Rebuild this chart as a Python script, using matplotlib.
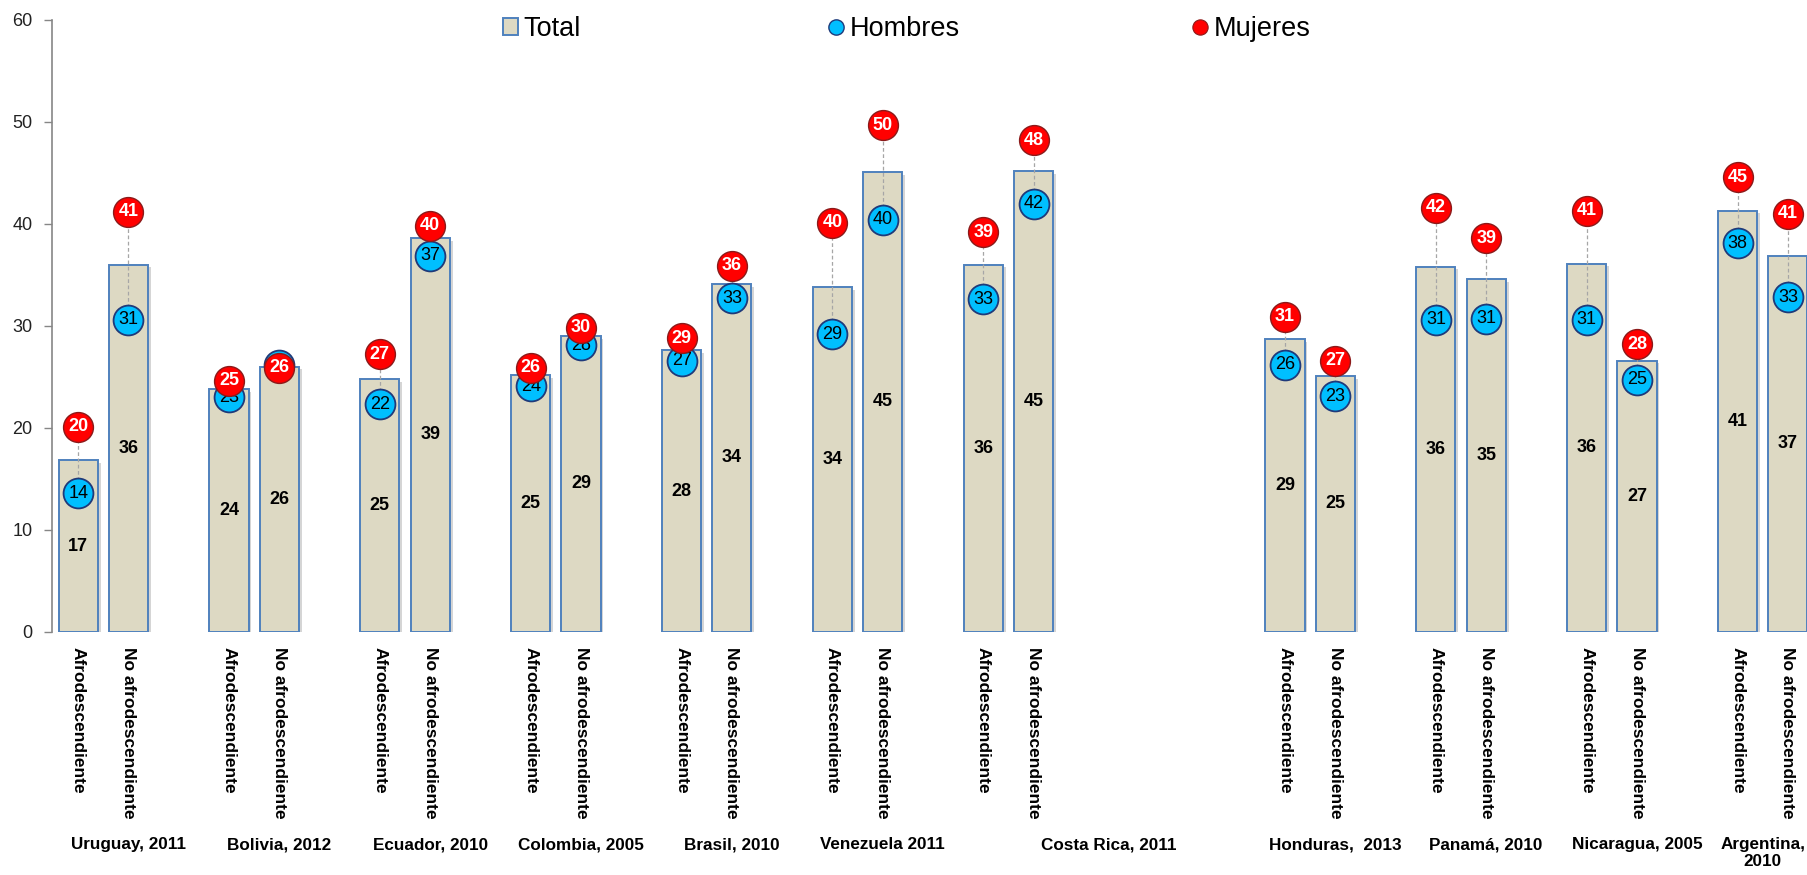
"""Tasa por condición étnico-racial y sexo, países seleccionados."""

import numpy as np
import matplotlib
matplotlib.use("Agg")
import matplotlib.pyplot as plt
from matplotlib import patheffects
from matplotlib.lines import Line2D
from matplotlib.patches import Patch
from matplotlib.transforms import blended_transform_factory

plt.rcParams["font.family"] = ["Liberation Sans", "DejaVu Sans"]

# Datos
paises = ["Uruguay, 2011", "Bolivia, 2012", "Ecuador, 2010", "Colombia, 2005",
          "Brasil, 2010", "Venezuela 2011", "Costa Rica, 2011", "Honduras,  2013",
          "Panamá, 2010", "Nicaragua, 2005", "Argentina,\n2010"]
categorias = ["Afrodescendiente", "No afrodescendiente"]

total_afro = [16.8, 23.8, 24.8, 25.2, 27.6, 33.8, 36.0, 28.7, 35.8, 36.1, 41.3]
total_no = [36.0, 26.0, 38.6, 29.0, 34.1, 45.1, 45.2, 25.1, 34.6, 26.6, 36.9]
hombres_afro = [13.6, 23.0, 22.3, 24.1, 26.6, 29.2, 32.6, 26.2, 30.6, 30.6, 38.1]
hombres_no = [30.6, 26.2, 36.9, 28.1, 32.7, 40.4, 42.0, 23.1, 30.7, 24.7, 32.8]
mujeres_afro = [20.1, 24.6, 27.2, 25.9, 28.8, 40.1, 39.2, 30.9, 41.6, 41.3, 44.6]
mujeres_no = [41.2, 25.9, 39.8, 29.8, 35.9, 49.7, 48.2, 26.6, 38.6, 28.2, 41.0]

# Colores
c_total = "#DDD9C3"
c_borde = "#4F81BD"
c_hom = "#00BFFF"
c_hom_borde = "#1F3A7A"
c_muj = "#FF0000"
c_muj_borde = "#8B1A1A"

# Posiciones: 3 huecos por país, con un grupo vacío después de Costa Rica
grupo = np.arange(len(paises))
grupo[grupo >= 7] += 1
x_afro = grupo * 3
x_no = grupo * 3 + 1

fig = plt.figure(figsize=(18.08, 8.75), dpi=100)
ax = fig.add_axes([52 / 1808, 243.3 / 875, 1 - 52 / 1808, 611.7 / 875])

sombra = [patheffects.SimplePatchShadow(offset=(2, -2), shadow_rgbFace="#888888", alpha=0.35),
          patheffects.Normal()]

x_all = np.concatenate([x_afro, x_no])
tot_all = np.concatenate([total_afro, total_no])
hom_all = np.concatenate([hombres_afro, hombres_no])
muj_all = np.concatenate([mujeres_afro, mujeres_no])

barras = ax.bar(x_all, tot_all, width=0.78, color=c_total, edgecolor=c_borde,
                linewidth=1.4, zorder=2)
for b in barras:
    b.set_path_effects(sombra)

# Líneas entre hombres y mujeres
ax.vlines(x_all, hom_all, muj_all, colors="#A6A6A6", linestyles=(0, (3, 2)),
          linewidth=0.9, zorder=3)

ax.plot(x_all, hom_all, ls="", marker="o", markersize=21.5, markerfacecolor=c_hom,
        markeredgecolor=c_hom_borde, markeredgewidth=1.3, zorder=4)
ax.plot(x_all, muj_all, ls="", marker="o", markersize=21.5, markerfacecolor=c_muj,
        markeredgecolor=c_muj_borde, markeredgewidth=1.0, zorder=5)

for xi, t, h, m in zip(x_all, tot_all, hom_all, muj_all):
    ax.text(xi, t / 2, f"{t:.0f}", ha="center", va="center", fontsize=13,
            fontweight="bold", color="black", zorder=6)
    ax.text(xi, h, f"{h:.0f}", ha="center", va="center", fontsize=13,
            color="black", zorder=4.5)
    ax.text(xi, m, f"{m:.0f}", ha="center", va="center", fontsize=13,
            fontweight="bold", color="white", zorder=6)

# Ejes
ax.set_ylim(0, 60)
ax.set_xlim(-0.52, 34.4)
ax.set_yticks(range(0, 61, 10))
ax.tick_params(axis="y", length=6, width=1, color="#868686", labelsize=13,
               labelcolor="#222222", pad=8)
for s in ["top", "right", "bottom"]:
    ax.spines[s].set_visible(False)
ax.spines["left"].set_color("#868686")
ax.spines["left"].set_linewidth(1.2)

orden = np.argsort(x_all)
ax.set_xticks(x_all[orden])
etiquetas = [categorias[0]] * len(paises) + [categorias[1]] * len(paises)
ax.set_xticklabels([etiquetas[i] for i in orden], rotation=270, fontsize=12.5,
                   fontweight="bold", ha="center", va="top")
ax.tick_params(axis="x", length=0, pad=11)

# Etiquetas de país centradas sobre su tramo de categorías
trans = blended_transform_factory(ax.transData, fig.transFigure)
inicio = list(x_afro) + [x_no[-1] + 1]
for i, nombre in enumerate(paises):
    centro = (inicio[i] + inicio[i + 1] - 1) / 2
    ax.text(centro, 1 - 837 / 875, nombre, transform=trans, ha="center", va="top",
            fontsize=12.3, fontweight="bold", multialignment="center", clip_on=False)

# Leyenda
h_total = Patch(facecolor=c_total, edgecolor=c_borde, linewidth=1.4)
h_hom = Line2D([], [], ls="", marker="o", markersize=11, markerfacecolor=c_hom,
               markeredgecolor=c_hom_borde, markeredgewidth=1)
h_muj = Line2D([], [], ls="", marker="o", markersize=11, markerfacecolor=c_muj,
               markeredgecolor=c_muj_borde, markeredgewidth=0.8)
for h, lab, xpos in [(h_total, "Total", 503), (h_hom, "Hombres", 829), (h_muj, "Mujeres", 1193)]:
    fig.legend(handles=[h], labels=[lab], loc="center left",
               bbox_to_anchor=(xpos / 1808, 1 - 29 / 875), frameon=False, fontsize=19.5,
               handlelength=0.55, handleheight=0.6, handletextpad=0.2,
               borderpad=0, borderaxespad=0)

fig.savefig("out.png", dpi=100, facecolor="white")
